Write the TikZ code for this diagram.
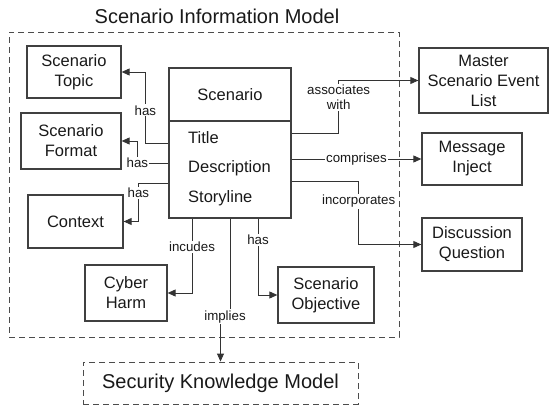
\documentclass[tikz,border=0pt]{standalone}
\usepackage{fontspec}
\setmainfont{Liberation Sans}
\usetikzlibrary{arrows.meta}

\tikzset{
  box/.style={draw=black!75, line width=1.3pt, align=center, inner sep=0pt,
    font=\fontsize{16.5}{20}\selectfont, text=black!90},
  boxtext/.style={inner sep=0pt, font=\fontsize{16.5}{20}\selectfont, text=black!90},
  conn/.style={draw=black!80, line width=0.9pt, -{Triangle[length=8pt,width=7pt]}},
  lbl/.style={fill=white, inner sep=1pt, font=\fontsize{13.3}{15}\selectfont,
    text=black!90, align=center},
  dashbox/.style={draw=black!70, line width=0.9pt, dash pattern=on 6pt off 4pt},
}

\begin{document}
\begin{tikzpicture}[x=1pt,y=-1pt]
	%%%%% START %%%%%
	\useasboundingbox (0,0) rectangle (550,405);
	
	\node[font=\fontsize{20}{24}\selectfont, text=black!90] (title) at (217,16) {Scenario Information Model};
	\node[dashbox, minimum width=390pt, minimum height=305pt] (simbox) at (204,184.5) {};
	
	% scenario class
	\node[box, minimum width=122pt, minimum height=150pt] (scenario) at (230,143) {};
	\draw[draw=black!75, line width=1.3pt] ([yshift=22pt]scenario.west) -- ([yshift=22pt]scenario.east);
	\node[boxtext] (scnhead) at (230,95) {Scenario};
	\node[boxtext, anchor=west] (attrtitle) at (188,138) {Title};
	\node[boxtext, anchor=west] (attrdesc) at (188,168) {Description};
	\node[boxtext, anchor=west] (attrstory) at (188,198) {Storyline};
	
	% inside
	\node[box, minimum width=94pt, minimum height=52pt] (topic) at (74,72) {Scenario\\Topic};
	\node[box, minimum width=100pt, minimum height=56pt] (format) at (71,141) {Scenario\\Format};
	\node[box, minimum width=95pt, minimum height=53pt] (context) at (75.5,221.5) {Context};
	\node[box, minimum width=82pt, minimum height=56pt] (harm) at (126,293) {Cyber\\Harm};
	\node[box, minimum width=96pt, minimum height=56pt] (objective) at (326,295) {Scenario\\Objective};
	
	% outside
	\node[box, minimum width=129pt, minimum height=65pt] (mselist) at (483.5,80.5) {Master\\Scenario Event\\List};
	\node[box, minimum width=100pt, minimum height=52pt] (inject) at (472,159) {Message\\Inject};
	\node[box, minimum width=100pt, minimum height=53pt] (question) at (472,244.5) {Discussion\\Question};
	\node[dashbox, minimum width=275pt, minimum height=42pt, inner sep=0pt,
		font=\fontsize{20}{24}\selectfont, text=black!90] (skm) at (220.5,383) {Security Knowledge Model};
	
	% connectors
	\draw[conn] (scenario.west) -- ++(-23,0) |- node[lbl, pos=0.23] (lbltopic) {has} (topic.east);
	\draw[conn] ([yshift=-20pt]scenario.west) -- ++(-31,0) node[lbl] (lblformat) {has} |- (format.east);
	\draw[conn] ([yshift=-40pt]scenario.west) -- ++(-30,0) |- node[lbl, pos=0.13] (lblcontext) {has} (context.east);
	\draw[conn] ([xshift=-38pt]scenario.south) |- node[lbl, pos=0.19] (lblharm) {incudes} (harm.east);
	\draw[conn] ([xshift=28pt]scenario.south) |- node[lbl, pos=0.14] (lblobj) {has} (objective.west);
	\draw[conn] (scenario.south) -- ++(0,98) node[lbl, xshift=-5pt] (lblskm) {implies} -| (skm.north);
	
	\draw[conn] ([yshift=10pt]scenario.east) -- ++(47,0) |- node[lbl, pos=0.34] (lblmse) {associates\\with} (mselist.west);
	\draw[conn] ([yshift=-16pt]scenario.east) -- node[lbl] (lblinject) {comprises} (inject.west);
	\draw[conn] ([yshift=-38pt]scenario.east) -- ++(67,0) |- node[lbl, pos=0.16] (lblquestion) {incorporates} (question.west);
	
	%%%%% END %%%%%
\end{tikzpicture}
\end{document}
